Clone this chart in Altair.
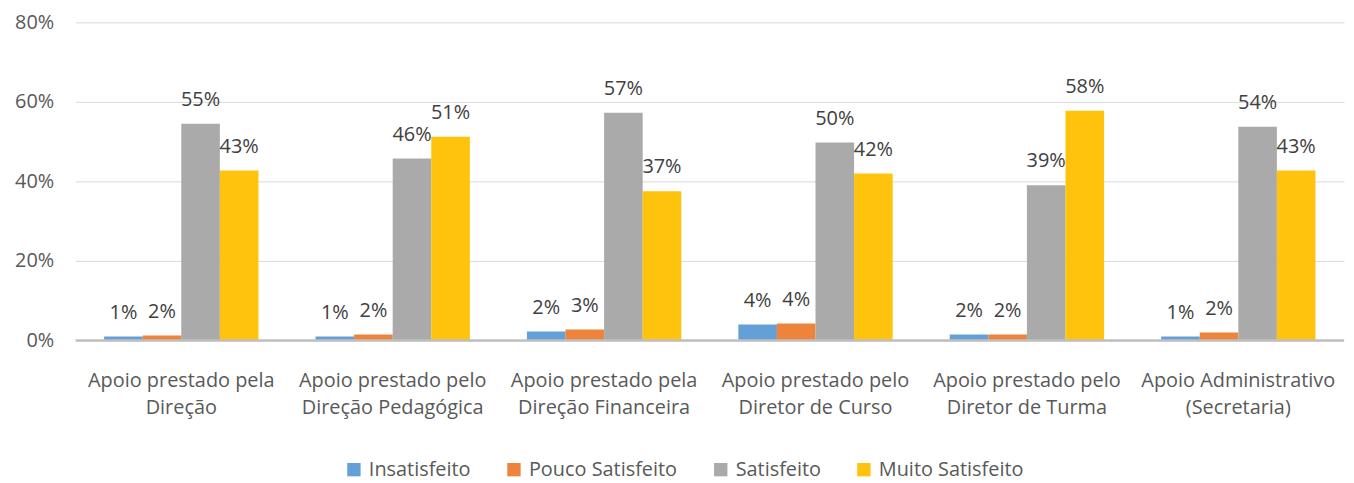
import altair as alt
import pandas as pd

categories = [
    "Apoio prestado pela\nDireção",
    "Apoio prestado pelo\nDireção Pedagógica",
    "Apoio prestado pela\nDireção Financeira",
    "Apoio prestado pelo\nDiretor de Curso",
    "Apoio prestado pelo\nDiretor de Turma",
    "Apoio Administrativo\n(Secretaria)",
]
series = ["Insatisfeito", "Pouco Satisfeito", "Satisfeito", "Muito Satisfeito"]
insatisfeito = [1.0, 1.0, 2.25, 4.0, 1.5, 1.0]
pouco = [1.25, 1.5, 2.75, 4.25, 1.5, 2.0]
satisfeito = [54.5, 45.75, 57.25, 49.75, 39.0, 53.75]
muito = [42.75, 51.25, 37.5, 42.0, 57.75, 42.75]
labels_ins = ["1%", "1%", "2%", "4%", "2%", "1%"]
labels_pouco = ["2%", "2%", "3%", "4%", "2%", "2%"]
labels_sat = ["55%", "46%", "57%", "50%", "39%", "54%"]
labels_muito = ["43%", "51%", "37%", "42%", "58%", "43%"]
colors = ["#5B9BD5", "#ED7D31", "#A5A5A5", "#FFC000"]

rows = []
for vals, labs, s in [
    (insatisfeito, labels_ins, series[0]),
    (pouco, labels_pouco, series[1]),
    (satisfeito, labels_sat, series[2]),
    (muito, labels_muito, series[3]),
]:
    for c, v, l in zip(categories, vals, labs):
        rows.append({"cat": c, "serie": s, "value": v / 100.0, "label": l})
df = pd.DataFrame(rows)

FONT = "Open Sans"
FS = 20

x = alt.X(
    "cat:N",
    sort=categories,
    scale=alt.Scale(paddingInner=0.27, paddingOuter=0.135),
    axis=alt.Axis(
        title=None,
        labelAngle=0,
        labelExpr="split(datum.label, '\\n')",
        labelFontSize=FS,
        labelColor="#595959",
        labelFont=FONT,
        labelPadding=30,
        labelLineHeight=28,
        labelLimit=400,
        ticks=False,
        domain=False,
        grid=False,
    ),
)
y = alt.Y(
    "value:Q",
    scale=alt.Scale(domain=[0, 0.8]),
    axis=alt.Axis(
        title=None,
        format=".0%",
        values=[0, 0.2, 0.4, 0.6, 0.8],
        labelFontSize=FS,
        labelColor="#595959",
        labelFont=FONT,
        labelPadding=22,
        ticks=False,
        domain=False,
        grid=True,
        gridColor="#D9D9D9",
        gridWidth=1,
    ),
)
xoff = alt.XOffset("serie:N", sort=series, scale=alt.Scale(paddingInner=0, paddingOuter=0))
color = alt.Color(
    "serie:N",
    sort=series,
    scale=alt.Scale(domain=series, range=colors),
    legend=alt.Legend(
        title=None,
        orient="none",
        direction="horizontal",
        legendX=270,
        legendY=440,
        symbolType="square",
        symbolSize=180,
        symbolStrokeWidth=0,
        labelFontSize=FS,
        labelFont=FONT,
        labelColor="#595959",
        labelLimit=400,
        columnPadding=33,
        labelOffset=5,
    ),
)

bars = alt.Chart(df).mark_bar(opacity=0.95).encode(x=x, y=y, xOffset=xoff, color=color)
text = alt.Chart(df).mark_text(
    dy=-24, baseline="middle", fontSize=FS, font=FONT, color="#404040"
).encode(x=x, y=y, xOffset=xoff, text="label:N")
base = alt.Chart(pd.DataFrame({"v": [0]})).mark_rule(color="#BFBFBF", strokeWidth=2.5).encode(y="v:Q")

chart = (
    alt.layer(bars, base, text)
    .properties(
        width=1276,
        height=320,
        autosize=alt.AutoSizeParams(type="none"),
        padding={"left": 68, "top": 13, "right": 2, "bottom": 142},
    )
    .configure_view(stroke=None)
)

chart.save("out.html", embed_options={"renderer": "svg", "actions": False})
